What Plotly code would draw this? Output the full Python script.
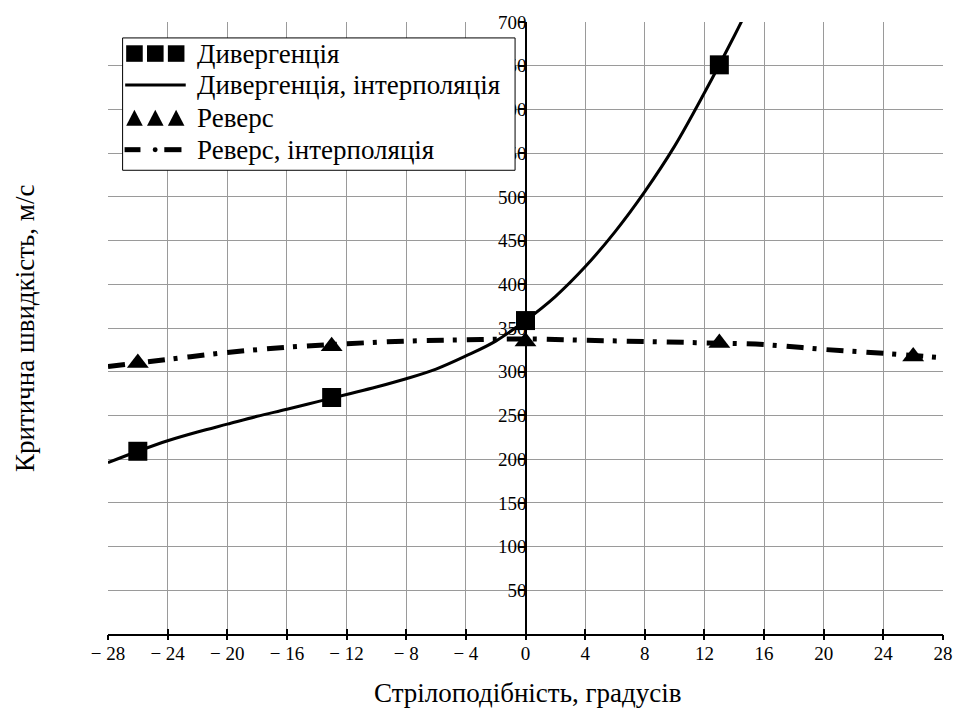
import plotly.graph_objects as go

# ---- data ----
div_x = [-26, -13, 0, 13]
div_y = [209, 270.5, 358.5, 651]

div_interp_x = [-28, -26, -24, -22, -20, -18, -16, -14, -12, -10, -8, -6, -4, -2, 0, 2, 4, 6, 8, 10, 12, 14, 14.5]
div_interp_y = [196, 209, 221, 231, 240, 249, 257, 265.5, 274, 282.5, 292, 303, 318, 335, 358.5, 386, 420, 460, 506, 558, 619, 684, 701]

rev_x = [-26, -13, 0, 13, 26]
rev_y = [310, 329, 334.6, 332.8, 317.5]

rev_interp_x = [-28, -24, -20, -16, -12, -8, -4, 0, 4, 8, 12, 16, 20, 24, 28]
rev_interp_y = [306, 314, 322, 328, 332, 335, 336.5, 337.5, 336, 334.5, 333, 331, 325.5, 321, 316]

x_ticks = list(range(-28, 29, 4))
x_tick_text = [("\u2212 " + str(abs(v))) if v < 0 else str(v) for v in x_ticks]
y_ticks = list(range(50, 701, 50))

legend_names = ["Дивергенція", "Дивергенція, інтерполяція", "Реверс", "Реверс, інтерполяція"]
x_title = "Стрілоподібність, градусів"
y_title = "Критична швидкість, м/с"

FONT = "'Liberation Serif', 'Times New Roman', Tinos, 'DejaVu Serif', serif"
W, H = 965, 711
ML, MR, MT, MB = 108, 16, 19, 77
PW, PH = W - ML - MR, H - MT - MB


def px(x):
    return (x - ML) / PW


def py(y):
    return (H - MB - y) / PH


fig = go.Figure()

fig.add_trace(go.Scatter(x=div_interp_x, y=div_interp_y, mode="lines",
                         line=dict(color="black", width=3, shape="spline", smoothing=1.0),
                         showlegend=False, name=legend_names[1]))
fig.add_trace(go.Scatter(x=rev_interp_x, y=rev_interp_y, mode="lines",
                         line=dict(color="black", width=5, shape="spline", smoothing=1.0,
                                   dash="17px,9px,4px,10px"),
                         showlegend=False, name=legend_names[3]))
fig.add_trace(go.Scatter(x=div_x, y=div_y, mode="markers",
                         marker=dict(symbol="square", size=19, color="black"),
                         showlegend=False, name=legend_names[0]))
fig.add_trace(go.Scatter(x=rev_x, y=rev_y, mode="markers",
                         marker=dict(symbol="triangle-up", size=19, color="black"),
                         showlegend=False, name=legend_names[2]))
# invisible traces on overlay axes (tick marks only)
fig.add_trace(go.Scatter(x=[-28, 28], y=[0, 0], xaxis="x2", yaxis="y", mode="markers",
                         marker=dict(opacity=0), showlegend=False, hoverinfo="skip"))
fig.add_trace(go.Scatter(x=[-28, 28], y=[0, 700], xaxis="x", yaxis="y2", mode="markers",
                         marker=dict(opacity=0), showlegend=False, hoverinfo="skip"))

grid = "#9a9a9a"
fig.update_layout(
    width=W, height=H,
    margin=dict(l=ML, r=MR, t=MT, b=MB),
    paper_bgcolor="white", plot_bgcolor="white",
    font=dict(family=FONT, color="black", size=18),
    xaxis=dict(range=[-28, 28], tickvals=x_ticks, ticktext=x_tick_text,
               showgrid=True, gridcolor=grid, gridwidth=1,
               zeroline=False, showline=True, linecolor="black", linewidth=1.5,
               ticks="inside", ticklen=5, tickcolor="black", tickwidth=1.5,
               tickfont=dict(family=FONT, size=19), ticklabelstandoff=1),
    xaxis2=dict(range=[-28, 28], overlaying="x", anchor="y", side="bottom",
                tickvals=x_ticks, showticklabels=False, showgrid=False, zeroline=False,
                ticks="outside", ticklen=5, tickcolor="black", tickwidth=1.5),
    yaxis=dict(range=[0, 700], tickvals=y_ticks, anchor="free", position=px(529.5),
               showgrid=True, gridcolor=grid, gridwidth=1,
               zeroline=False, showline=False, ticks="",
               tickfont=dict(family=FONT, size=19), ticklabelstandoff=0),
    yaxis2=dict(range=[0, 700], tickvals=y_ticks, overlaying="y", anchor="free", position=0.5,
                showgrid=False, zeroline=False, showticklabels=False,
                showline=True, linecolor="black", linewidth=1.5,
                ticks="outside", ticklen=6, tickcolor="black", tickwidth=1.5),
)

# axis titles as annotations
fig.add_annotation(text=x_title, xref="paper", yref="paper", x=px(531), y=py(710),
                   showarrow=False, font=dict(family=FONT, size=27), xanchor="center", yanchor="bottom")
fig.add_annotation(text=y_title, xref="paper", yref="paper", x=px(25), y=py(327),
                   showarrow=False, textangle=-90, font=dict(family=FONT, size=27),
                   xanchor="center", yanchor="middle")

# ---- custom legend ----
shapes = []
shapes.append(dict(type="rect", xref="paper", yref="paper", x0=px(122.7), x1=px(518), y0=py(35), y1=py(168),
                   line=dict(color="black", width=1), fillcolor="white", layer="above"))
row_y = [50.7, 82.3, 115.3, 147.3]
for x0 in [126.3, 147.3, 168.3]:
    shapes.append(dict(type="rect", xref="paper", yref="paper", x0=px(x0), x1=px(x0 + 16.7),
                       y0=py(row_y[0] - 8.3), y1=py(row_y[0] + 8.3),
                       line=dict(width=0), fillcolor="black", layer="above"))
shapes.append(dict(type="line", xref="paper", yref="paper", x0=px(125.3), x1=px(186.3),
                   y0=py(row_y[1]), y1=py(row_y[1]), line=dict(color="black", width=3), layer="above"))
for x0 in [126.3, 147.3, 168.3]:
    p = "M {a},{b} L {c},{d} L {e},{b} Z".format(a=px(x0), b=py(123.3), c=px(x0 + 8.3), d=py(107.3),
                                                 e=px(x0 + 16.7))
    shapes.append(dict(type="path", xref="paper", yref="paper", path=p,
                       line=dict(width=0), fillcolor="black", layer="above"))
for a, b in [(124.7, 140.7), (164.7, 182.0)]:
    shapes.append(dict(type="line", xref="paper", yref="paper", x0=px(a), x1=px(b),
                       y0=py(row_y[3]), y1=py(row_y[3]), line=dict(color="black", width=5), layer="above"))
shapes.append(dict(type="circle", xref="paper", yref="paper", x0=px(153), x1=px(158),
                   y0=py(row_y[3] - 2.5), y1=py(row_y[3] + 2.5),
                   line=dict(width=0), fillcolor="black", layer="above"))
fig.update_layout(shapes=shapes)

for name, ry in zip(legend_names, row_y):
    fig.add_annotation(text=name, xref="paper", yref="paper", x=px(195.3), y=py(ry),
                       showarrow=False, xanchor="left", yanchor="middle",
                       font=dict(family=FONT, size=27))

fig.write_html("out.html")
